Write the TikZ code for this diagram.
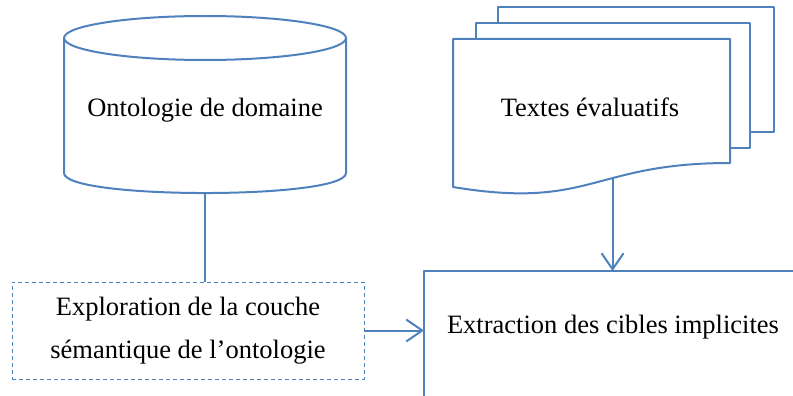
\documentclass[tikz,border=0pt]{standalone}
\usepackage{fontspec}
\setmainfont{Liberation Serif}
\usetikzlibrary{arrows.meta}
\definecolor{lineblue}{HTML}{4F81BD}
\tikzset{
  shapeline/.style={draw=lineblue, line width=2pt, line join=round},
  label/.style={font=\fontsize{26.5}{43}\selectfont, text=black, align=center, inner sep=0pt},
  conn/.style={draw=lineblue, line width=2pt},
  arr/.style={conn, -{Straight Barb[length=16pt,width=22pt,line width=2pt]}},
  dashbox/.style={draw=lineblue, line width=1pt, dash pattern=on 4pt off 3pt, minimum width=352pt, minimum height=97pt, inner sep=0pt}
}
\begin{document}
\begin{tikzpicture}[x=1pt,y=-1pt]
\useasboundingbox (0,0) rectangle (793,396);
% cylinder
\draw[shapeline] (205,38) ellipse[x radius=141, y radius=22];
\draw[shapeline] (64,38) -- (64,173) .. controls (64,199.7) and (346,199.7) .. (346,173) -- (346,38);
\coordinate (cylbot) at (205,193);
\node[label] (onto) at (205,110) {Ontologie de domaine};
% documents
\draw[shapeline] (498,23) -- (498,7) -- (774,7) -- (774,132) -- (750,132);
\draw[shapeline] (476,39) -- (476,23) -- (750,23) -- (750,148) -- (730,148);
\draw[shapeline, fill=white] (453,39) -- (730,39) -- (730,163) .. controls (591.5,163) and (591.5,210) .. coordinate[pos=0.4] (docbot) (453,187) -- cycle;
\node[label] (textes) at (590,107) {Textes évaluatifs};
% extraction box (open)
\draw[shapeline] (424,397) -- (424,271) -- (794,271);
\coordinate (extleft) at (424,332);
\coordinate (exttop) at (612,271);
\node[label] (extract) at (613,327) {Extraction des cibles implicites};
% dashed box
\node[dashbox, label] (explore) at (188,330.5) {Exploration de la couche\\sémantique de l’ontologie};
% connectors
\draw[conn] (cylbot) -- (cylbot |- explore.north);
\draw[arr] (explore.east) -- (explore.east -| extleft);
\draw[arr] (docbot) -- (docbot |- exttop);
\end{tikzpicture}
\end{document}
